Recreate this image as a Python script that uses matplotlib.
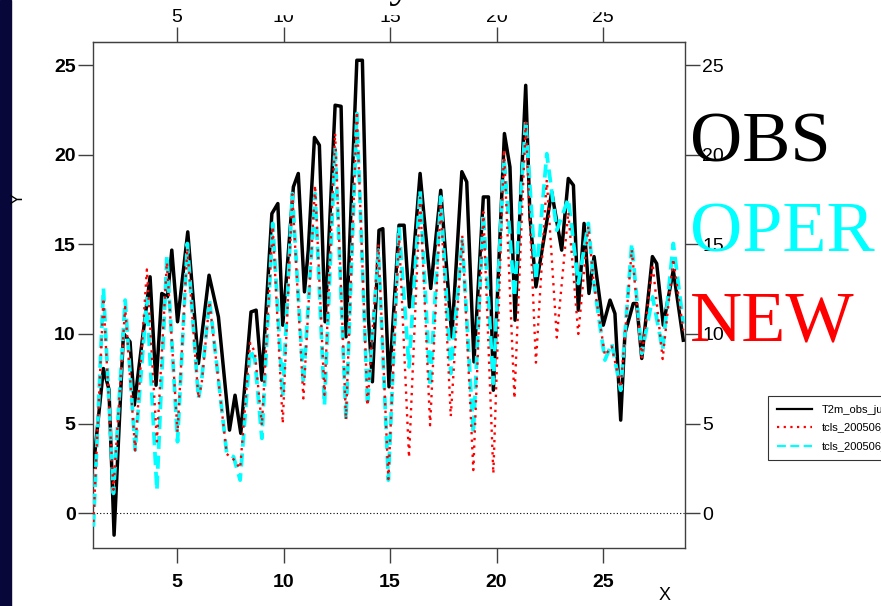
import matplotlib
matplotlib.use('Agg')
import matplotlib.pyplot as plt
from matplotlib.lines import Line2D
from matplotlib.patches import Rectangle

obs_x = [1.07, 1.54, 1.80, 2.04, 2.48, 2.79, 2.99, 3.73, 4.01, 4.28, 4.55, 4.75, 5.02, 5.50,
         6.00, 6.50, 6.94, 7.46, 7.72, 7.99, 8.47, 8.71, 8.98, 9.45, 9.73, 9.96, 10.46, 10.69,
         10.98, 11.16, 11.45, 11.68, 11.95, 12.42, 12.70, 12.93, 13.44, 13.70, 13.98, 14.17,
         14.48, 14.66, 14.95, 15.42, 15.66, 15.91, 16.41, 16.91, 17.38, 17.90, 18.37, 18.60,
         18.94, 19.38, 19.62, 19.85, 20.37, 20.63, 20.87, 21.02, 21.37, 21.57, 21.85, 22.59,
         23.06, 23.37, 23.61, 23.84, 24.11, 24.34, 24.58, 25.01, 25.33, 25.56, 25.83, 26.03,
         26.42, 26.58, 26.82, 27.32, 27.52, 27.83, 28.30, 28.77]
obs_y = [2.58, 8.07, 6.90, -1.23, 10.03, 9.56, 6.03, 13.19, 7.14, 12.26, 12.07, 14.68, 10.68, 15.70,
         8.35, 13.28, 10.95, 4.63, 6.58, 4.45, 11.23, 11.33, 7.42, 16.72, 17.28, 10.49, 18.21, 18.96,
         12.35, 14.68, 20.97, 20.54, 10.68, 22.77, 22.71, 9.84, 25.28, 25.28, 10.95, 7.33,
         15.79, 15.88, 7.05, 16.07, 16.07, 11.51, 18.96, 12.54, 18.02, 9.84, 19.06, 18.49,
         8.44, 17.65, 17.65, 6.86, 21.19, 19.32, 10.77, 14.68, 23.88, 16.53, 12.63, 17.93,
         14.68, 18.68, 18.30, 11.33, 16.17, 12.26, 14.32, 10.49, 11.89, 11.14, 5.19, 10.03,
         11.70, 11.70, 8.63, 14.32, 13.93, 10.49, 13.56, 9.65]

# forecasts share the same times
fc_x = [1.07, 1.54, 2.01, 2.56, 3.03, 3.58, 4.05, 4.52, 5.02, 5.48, 6.00, 6.15, 6.52, 7.33, 7.65,
        7.96, 8.43, 8.65, 8.98, 9.49, 9.96, 10.41, 10.93, 11.48, 11.92, 12.42, 12.93, 13.44, 13.94,
        14.45, 14.92, 15.42, 15.89, 16.41, 16.88, 17.38, 17.85, 18.39, 18.91, 19.38, 19.85, 20.35,
        20.84, 21.37, 21.85, 22.36, 22.83, 23.37, 23.84, 24.31, 24.55, 25.09, 25.41, 25.83, 26.35,
        26.82, 27.33, 27.80, 28.30, 28.77]
oper_y = [-0.76, 12.54, 1.10, 11.89, 3.52, 11.98, 1.28, 14.40, 3.98, 15.05, 6.40, 7.40, 11.89, 3.33, 3.14,
          1.84, 9.10, 8.60, 4.17, 16.17, 6.50, 17.84, 7.24, 17.84, 6.03, 20.44, 5.19, 22.30, 6.03,
          14.68, 1.84, 15.98, 8.16, 18.02, 7.05, 17.65, 7.80, 15.23, 4.45, 16.72, 7.24, 19.88,
          12.07, 21.93, 13.00, 20.06, 15.79, 17.55, 12.82, 16.17, 13.00, 8.54, 9.47, 6.86, 15.05,
          8.91, 12.07, 9.10, 15.05, 10.58]
new_y = [-0.5, 12.0, 1.3, 11.5, 3.5, 13.6, 4.0, 14.0, 4.5, 14.8, 6.4, 7.2, 11.8, 3.3, 3.0,
         2.5, 9.5, 9.0, 4.9, 16.0, 5.0, 17.8, 6.4, 18.3, 6.6, 21.2, 5.2, 22.4, 6.0,
         15.0, 1.9, 15.5, 3.1, 17.6, 4.9, 17.3, 5.4, 15.5, 2.4, 16.8, 2.2, 20.3,
         6.4, 21.8, 8.4, 18.6, 9.8, 16.8, 10.0, 16.0, 13.0, 8.8, 9.3, 7.0, 14.7,
         8.7, 13.9, 8.6, 14.2, 10.2]

labels = ['T2m_obs_jun2005', 'tcls_200506_oper', 'tcls_200506_new']
ticks = [5, 10, 15, 20, 25]

W, H = 881, 606
fig = plt.figure(figsize=(W / 100, H / 100), dpi=100)

# dark slide border on the left
fig.patches.append(Rectangle((0, 0), 11 / W, 1, transform=fig.transFigure,
                             color='#07073a', zorder=0))

ax = fig.add_axes([93 / W, 1 - 548 / H, (685 - 93) / W, (548 - 42) / H])
ax.plot(obs_x, obs_y, color='black', lw=2.5, zorder=3)
ax.plot(fc_x, oper_y, color='cyan', lw=2.7, ls=(0, (3.5, 1.8)), zorder=4)
ax.plot(fc_x, new_y, color='red', lw=1.7, ls=(0, (1, 2.2)), zorder=5)
ax.axhline(0, color='black', lw=0.8, ls=(0, (1, 2)), zorder=2)

ax.set_xlim(1.05, 28.85)
ax.set_ylim(-1.95, 26.3)
ax.set_xticks(ticks)
ax.set_yticks([0, 5, 10, 15, 20, 25])
for s in ax.spines.values():
    s.set_color('#404040')
    s.set_linewidth(1.0)

ax.tick_params(axis='x', direction='out', length=11, width=1, color='#404040',
               pad=8, labelsize=14)
ax.tick_params(axis='y', direction='out', length=11, width=1, color='#404040',
               right=True, labelright=True, pad=1.5, labelsize=14)
for t in ax.xaxis.get_major_ticks():
    t.label1.set_fontweight('bold')
    t.label1.set_family('Liberation Sans')
for t in ax.yaxis.get_major_ticks():
    t.label1.set_fontweight('bold')
    t.label1.set_family('Liberation Sans')
    t.label2.set_family('Liberation Sans')

top = ax.secondary_xaxis('top')
top.set_xticks(ticks)
top.tick_params(direction='out', length=11, width=1, color='#404040', pad=0.5, labelsize=14)
top.spines['top'].set_color('#404040')
for lab in top.get_xticklabels():
    lab.set_family('Liberation Sans')

fig.text(18 / W, 1 - 198 / H, 'Y', rotation=90, fontsize=12, ha='center', va='center',
         family='Liberation Sans')
fig.text(665 / W, 1 - 595 / H, 'X', fontsize=13, ha='center', va='center',
         family='Liberation Sans')

# title box of the slide covering part of the top tick labels
fig.patches.append(Rectangle((240 / W, 1 - 14 / H), 332 / W, 14 / H,
                             transform=fig.transFigure, color='white', zorder=10))
fig.patches.append(Rectangle((572 / W, 1 - 11 / H), 50 / W, 11 / H,
                             transform=fig.transFigure, color='white', zorder=10))
fig.text(400 / W, 1 + 4 / H, 'y', fontsize=34, family='Liberation Serif',
         ha='center', va='baseline', zorder=11)

# big slide labels
fig.text(690 / W, 1 - 162 / H, 'OBS', color='black', fontsize=52, family='Liberation Serif')
fig.text(690 / W, 1 - 252 / H, 'OPER', color='cyan', fontsize=52, family='Liberation Serif')
fig.text(690 / W, 1 - 340 / H, 'NEW', color='red', fontsize=52, family='Liberation Serif')

handles = [Line2D([], [], color='black', lw=1.6),
           Line2D([], [], color='red', lw=1.6, ls=(0, (1, 2))),
           Line2D([], [], color='cyan', lw=1.6, ls=(0, (4, 2)))]
leg = fig.legend(handles, labels, loc='upper left', bbox_to_anchor=(768 / W, 1 - 396 / H),
                 frameon=True, fancybox=False, edgecolor='black',
                 handlelength=3.2, labelspacing=0.75, borderpad=0.8, borderaxespad=0,
                 prop={'family': 'Liberation Sans', 'size': 8})
leg.get_frame().set_linewidth(0.8)

fig.savefig('out.png', dpi=100)
